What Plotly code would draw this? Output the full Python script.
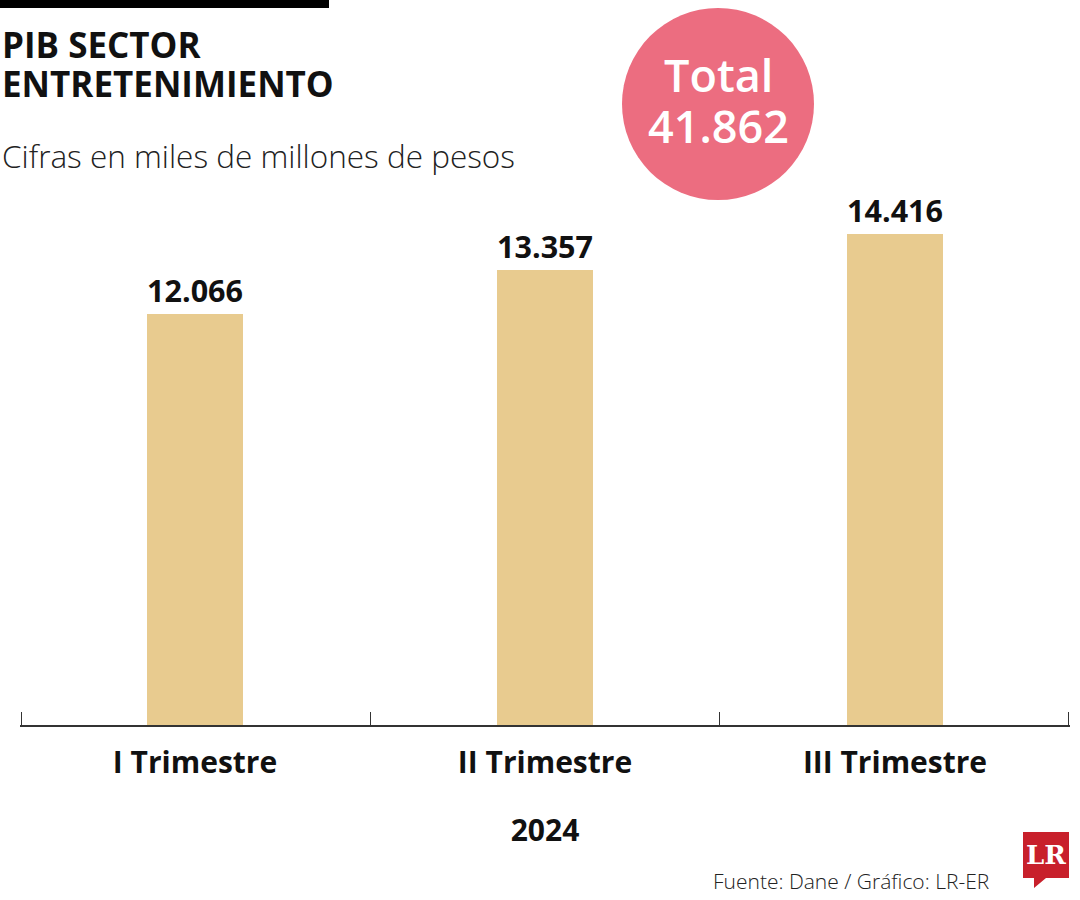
import plotly.graph_objects as go

# Data
categories = ["I Trimestre", "II Trimestre", "III Trimestre"]
values = [12066, 13357, 14416]
total_label = "41.862"
year_label = "2024"
title_lines = ["PIB SECTOR", "ENTRETENIMIENTO"]
subtitle = "Cifras en miles de millones de pesos"
source = "Fuente: Dane / Gráfico: LR-ER"
boundary_ticks = [-0.5, 0.5, 1.5, 2.5]

W, H = 1080, 900
L, R, T, B = 20, 10, 200, 175
PW, PH = W - L - R, H - T - B


def px(x):
    return (x - L) / PW


def py(y):
    return (H - B - y) / PH


FONT = "Open Sans"
BAR = "#E8CB8F"
PINK = "#EC6D80"
RED = "#C8202B"

fig = go.Figure()
fig.add_trace(go.Bar(
    x=categories, y=values,
    marker=dict(color=BAR, line=dict(width=0)),
    texttemplate="%{y:,}", textposition="outside",
    textfont=dict(family=FONT, size=31, color="#111111", weight="bold"),
    cliponaxis=False, hoverinfo="skip",
))
# invisible helper trace so the boundary-tick axis is drawn
fig.add_trace(go.Scatter(
    x=boundary_ticks, y=[0] * len(boundary_ticks), xaxis="x2", yaxis="y",
    mode="none", hoverinfo="skip", showlegend=False,
))

annotations = [
    dict(text=title_lines[0], x=px(0), y=py(44), xanchor="left", yanchor="middle",
         font=dict(family=FONT, size=35, color="#111111", weight="bold")),
    dict(text=title_lines[1], x=px(0), y=py(83), xanchor="left", yanchor="middle",
         font=dict(family=FONT, size=35, color="#111111", weight="bold")),
    dict(text=subtitle, x=px(0), y=py(155), xanchor="left", yanchor="middle",
         font=dict(family=FONT, size=31.5, color="#222222", weight=300)),
    dict(text="Total", x=px(718), y=py(74), xanchor="center", yanchor="middle",
         font=dict(family=FONT, size=45, color="white", weight=600)),
    dict(text=total_label, x=px(718), y=py(125), xanchor="center", yanchor="middle",
         font=dict(family=FONT, size=45, color="white", weight=600)),
    dict(text=source, x=px(991), y=py(881), xanchor="right", yanchor="middle",
         font=dict(family=FONT, size=21, color="#222222", weight=300)),
    dict(text="LR", x=px(1046), y=py(855), xanchor="center", yanchor="middle",
         font=dict(family="DejaVu Serif", size=26, color="white", weight="bold")),
]
for a in annotations:
    a.update(xref="paper", yref="paper", showarrow=False)

shapes = [
    dict(type="rect", x0=px(0), x1=px(329), y0=py(0), y1=py(8),
         fillcolor="#000000", line=dict(width=0)),
    dict(type="circle", x0=px(622), x1=px(814), y0=py(8), y1=py(200),
         fillcolor=PINK, line=dict(width=0), layer="below"),
    dict(type="path",
         path=(f"M {px(1023)} {py(832)} L {px(1069)} {py(832)} L {px(1069)} {py(878)} "
               f"L {px(1046)} {py(878)} L {px(1034)} {py(888)} L {px(1034)} {py(878)} "
               f"L {px(1023)} {py(878)} Z"),
         fillcolor=RED, line=dict(width=0)),
]
for s in shapes:
    s.update(xref="paper", yref="paper")

fig.update_layout(
    width=W, height=H, autosize=False,
    margin=dict(l=L, r=R, t=T, b=B, pad=0),
    paper_bgcolor="white", plot_bgcolor="white",
    separators=",.",
    bargap=1 - 96 / 350,
    showlegend=False,
    annotations=annotations, shapes=shapes,
    xaxis=dict(
        range=[-0.5, 2.5], showgrid=False, zeroline=False,
        showline=True, linecolor="#333333", linewidth=1.5,
        ticks="",
        tickfont=dict(family=FONT, size=30, color="#111111", weight="bold"),
        ticklabelstandoff=10,
        title=dict(text=year_label, standoff=39,
                   font=dict(family=FONT, size=30, color="#111111", weight="bold")),
        automargin=False, fixedrange=True,
    ),
    xaxis2=dict(
        type="linear", range=[-0.503, 2.503], overlaying="x", anchor="y", side="bottom",
        showgrid=False, zeroline=False, showline=False,
        tickmode="array", tickvals=boundary_ticks, showticklabels=False,
        ticks="inside", ticklen=13, tickwidth=1.2, tickcolor="#333333",
        automargin=False, fixedrange=True,
    ),
    yaxis=dict(range=[0, PH / 0.03406], visible=False, showgrid=False,
               zeroline=False, fixedrange=True),
)

fig.write_html("out.html", config={"displayModeBar": False})
